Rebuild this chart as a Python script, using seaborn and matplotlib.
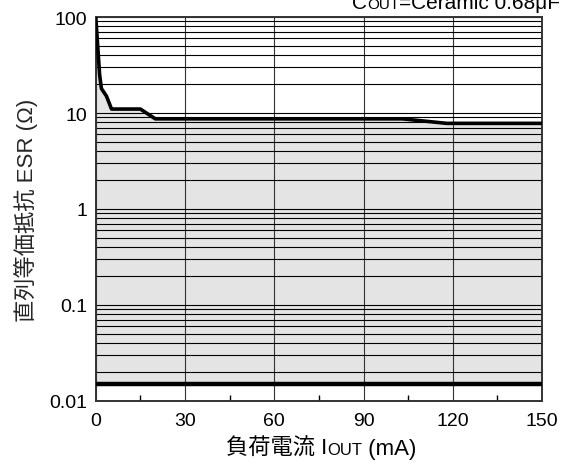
import seaborn as sns
import matplotlib.pyplot as plt
from matplotlib.ticker import FixedLocator, FixedFormatter, NullFormatter, LogLocator
from matplotlib.offsetbox import TextArea, HPacker, AnchoredOffsetbox

sns.set_theme(style="white")
plt.rcParams['font.family'] = ['Liberation Sans', 'Noto Sans CJK JP']

# data
current = [0, 1.3, 1.9, 3.6, 5.3, 15, 20, 103, 118, 150]
esr = [100, 25, 18, 15, 11, 11, 8.7, 8.7, 7.8, 7.8]
esr_min_x = [0, 150]
esr_min = [0.015, 0.015]
x_ticks = [0, 30, 60, 90, 120, 150]
y_ticks = [0.01, 0.1, 1, 10, 100]
y_labels = ['0.01', '0.1', '1', '10', '100']

fig = plt.figure(figsize=(5.7, 4.64), dpi=100)
ax = fig.add_axes([0.168, 0.134, 0.783, 0.827])

# stable region
ax.fill_between(current, esr_min[0], esr, color='#e4e4e4', lw=0, zorder=0)

ax.set_yscale('log')
ax.set_xlim(0, 150)
ax.set_ylim(0.01, 100)

ax.yaxis.set_major_locator(FixedLocator(y_ticks))
ax.yaxis.set_major_formatter(FixedFormatter(y_labels))
ax.yaxis.set_minor_locator(LogLocator(base=10, subs=range(2, 10)))
ax.yaxis.set_minor_formatter(NullFormatter())
ax.xaxis.set_major_locator(FixedLocator(x_ticks))
ax.xaxis.set_minor_locator(FixedLocator([15, 45, 75, 105, 135]))

ax.grid(which='both', axis='y', color='black', lw=0.8, zorder=1)
ax.grid(which='major', axis='x', color='#333333', lw=0.8, zorder=1)
ax.set_axisbelow(True)

sns.lineplot(x=current, y=esr, color='black', lw=2.6, ax=ax, zorder=3)
sns.lineplot(x=esr_min_x, y=esr_min, color='black', lw=3.2, ax=ax, zorder=3)

ax.tick_params(axis='both', which='major', labelsize=14, length=0, pad=6,
               colors='black')
ax.tick_params(axis='x', which='major', pad=8)
ax.tick_params(axis='y', which='minor', length=0)
ax.tick_params(axis='x', which='minor', direction='in', length=4, width=1,
               color='black', bottom=True)
for s in ax.spines.values():
    s.set_color('#333333')
    s.set_linewidth(1.4)

ax.set_ylabel('直列等価抵抗 ESR (Ω)', fontsize=16, labelpad=8)

# x label with small-caps style subscript
def mixed(parts):
    boxes = [TextArea(t, textprops=dict(fontsize=fs, color='black')) for t, fs in parts]
    return HPacker(children=boxes, align='baseline', pad=0, sep=0)

xlab = AnchoredOffsetbox(loc='center', child=mixed([('負荷電流 I', 16), ('OUT', 12), (' (mA)', 16)]),
                         bbox_to_anchor=(0.563, 0.032), bbox_transform=fig.transFigure,
                         frameon=False, pad=0, borderpad=0)
fig.add_artist(xlab)

title = AnchoredOffsetbox(loc='center right',
                          child=mixed([('C', 15), ('OUT', 11), ('=Ceramic 0.68μF', 15)]),
                          bbox_to_anchor=(0.983, 0.993), bbox_transform=fig.transFigure,
                          frameon=False, pad=0, borderpad=0)
fig.add_artist(title)

fig.savefig('out.png', dpi=100)
